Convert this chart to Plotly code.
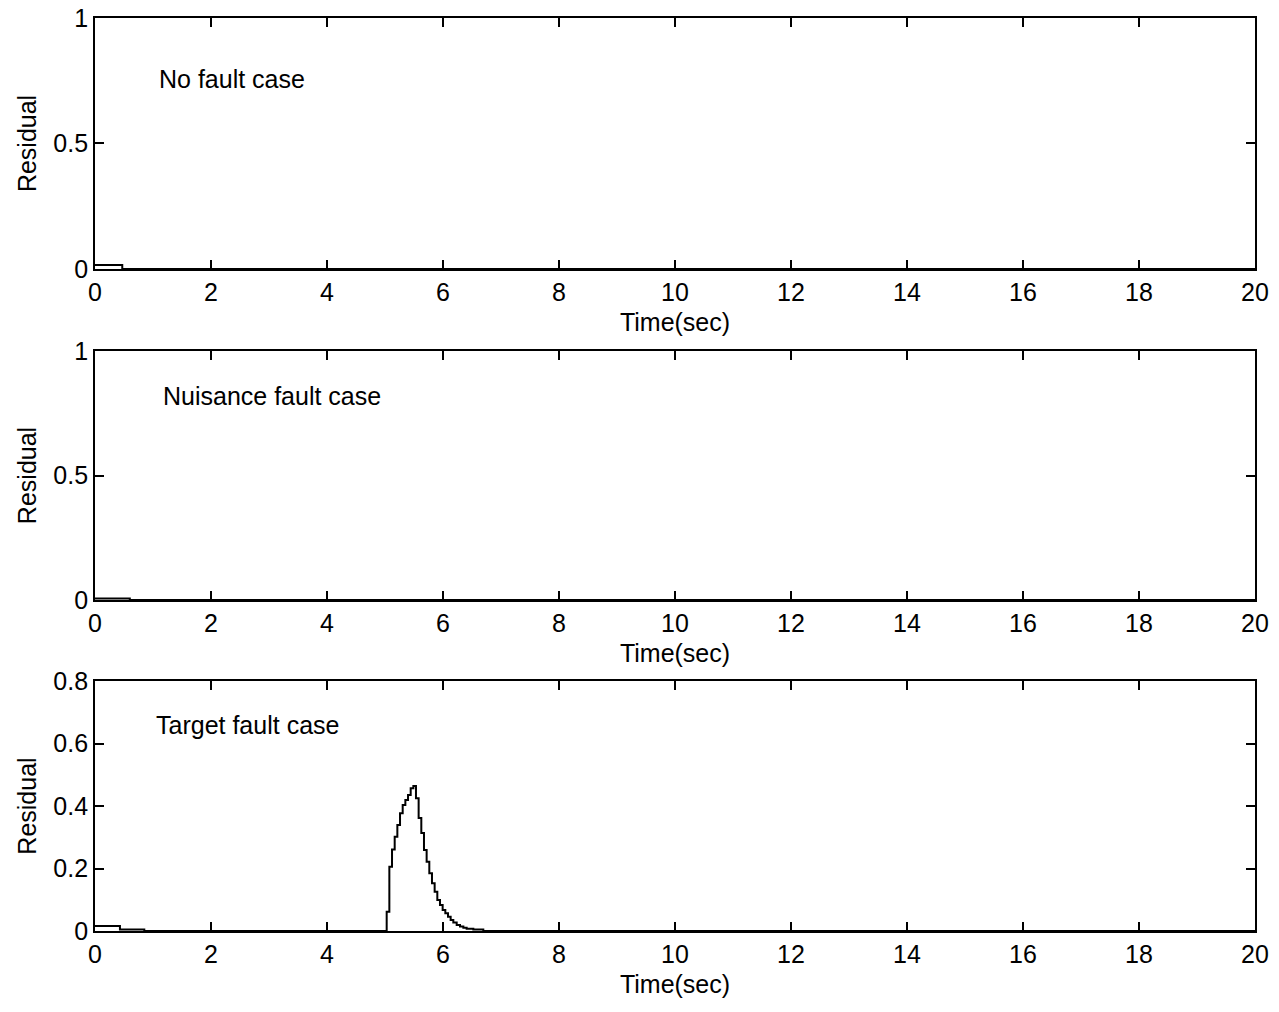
import plotly.graph_objects as go
from plotly.subplots import make_subplots

# ---- data ----
# Panel 1: no fault case
t_nofault = [0.0, 0.47, 20.0]
r_nofault = [0.016, 0.0, 0.0]

# Panel 2: nuisance fault case
t_nuisance = [0.0, 0.60, 20.0]
r_nuisance = [0.006, 0.0, 0.0]

# Panel 3: target fault case
t_target = [0.0, 0.43, 0.85,
            5.029, 5.075, 5.121, 5.167, 5.213, 5.259, 5.305, 5.351, 5.397, 5.443,
            5.489, 5.534, 5.580, 5.626, 5.672, 5.718, 5.764, 5.810, 5.856, 5.902,
            5.948, 5.994, 6.040, 6.086, 6.132, 6.178, 6.236, 6.293, 6.351, 6.408,
            6.523, 6.695, 20.0]
r_target = [0.016, 0.005, 0.0,
            0.062, 0.206, 0.261, 0.302, 0.339, 0.377, 0.403, 0.419, 0.435, 0.457,
            0.464, 0.425, 0.362, 0.314, 0.259, 0.222, 0.185, 0.153, 0.126, 0.099,
            0.083, 0.067, 0.057, 0.046, 0.035, 0.027, 0.019, 0.014, 0.010, 0.007,
            0.005, 0.0, 0.0]

x_ticks = [0, 2, 4, 6, 8, 10, 12, 14, 16, 18, 20]
y_ticks_12 = [0, 0.5, 1]
y_ticklabels_12 = ["0", "0.5", "1"]
y_ticks_3 = [0, 0.2, 0.4, 0.6, 0.8]
y_ticklabels_3 = ["0", "0.2", "0.4", "0.6", "0.8"]

case_labels = ["No fault case", "Nuisance fault case", "Target fault case"]
label_pos = [(1.07, 0.757), (1.14, 0.819), (1.02, 0.659)]

FONT = "Liberation Sans, Arial, Helvetica, sans-serif"
FS = 25

fig = make_subplots(rows=3, cols=1)

series = [(t_nofault, r_nofault), (t_nuisance, r_nuisance), (t_target, r_target)]
for i, (t, r) in enumerate(series, start=1):
    fig.add_trace(go.Scatter(x=t, y=r, mode="lines", line=dict(color="black", width=2, shape="hv"),
                             showlegend=False, hoverinfo="skip"), row=i, col=1)

domains = [[0.7251, 1.0], [0.3625, 0.6353], [0.0, 0.2738]]
for i in range(3):
    ax = "" if i == 0 else str(i + 1)
    fig.layout["yaxis" + ax].domain = domains[i]
    fig.update_xaxes(row=i + 1, col=1, range=[0, 20], tickvals=x_ticks,
                     ticks="inside", ticklen=9, tickwidth=1.5, tickcolor="black",
                     showline=True, linecolor="black", linewidth=1.8, mirror="ticks",
                     showgrid=False, zeroline=False, automargin=False,
                     tickfont=dict(family=FONT, size=FS, color="black"),
                     title=dict(text="Time(sec)", font=dict(family=FONT, size=FS, color="black"), standoff=9))
    if i < 2:
        tv, tt, rng = y_ticks_12, y_ticklabels_12, [0, 1]
    else:
        tv, tt, rng = y_ticks_3, y_ticklabels_3, [0, 0.8]
    fig.update_yaxes(row=i + 1, col=1, range=rng, tickvals=tv, ticktext=tt,
                     ticks="inside", ticklen=9, tickwidth=1.5, tickcolor="black",
                     showline=True, linecolor="black", linewidth=1.8, mirror="ticks",
                     showgrid=False, zeroline=False, automargin=False,
                     tickfont=dict(family=FONT, size=FS, color="black"),
                     title=dict(text="Residual", font=dict(family=FONT, size=FS, color="black"), standoff=10))
    x0, y0 = label_pos[i]
    fig.add_annotation(x=x0, y=y0, xref="x" + ax, yref="y" + ax, text=case_labels[i],
                       showarrow=False, xanchor="left", yanchor="middle",
                       font=dict(family=FONT, size=FS, color="black"))

fig.update_layout(width=1279, height=1012,
                  margin=dict(l=95, r=24, t=18, b=81, autoexpand=False),
                  plot_bgcolor="white", paper_bgcolor="white")

fig.write_html("out.html", config={"displayModeBar": False},
               post_script="document.body.style.margin='0';document.body.style.overflow='hidden';")
